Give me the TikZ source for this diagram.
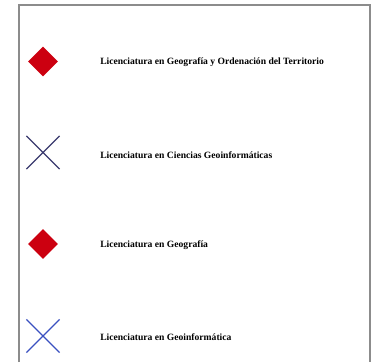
\documentclass[tikz,border=0pt]{standalone}
\usepackage{fontspec}
\setmainfont{Liberation Serif}
\usepackage{tikz}
\usetikzlibrary{shapes.geometric,shapes.misc}
\definecolor{framegray}{HTML}{8C8C8C}
\definecolor{diamondred}{HTML}{CC0010}
\definecolor{crossnavy}{HTML}{3A3A6E}
\definecolor{crossblue}{HTML}{3A50C0}
\tikzset{
  keydiamond/.style={diamond,fill=diamondred,inner sep=0pt,minimum size=22.5pt},
  keycross/.style={cross out,draw,line width=0.9pt,inner sep=0pt,minimum size=24pt},
  keytext/.style={anchor=west,inner sep=0pt,font=\fontsize{7.2}{8.5}\selectfont\bfseries}
}

\begin{document}
\begin{tikzpicture}[x=0.75pt,y=-0.75pt]
\useasboundingbox (0,0) rectangle (375,362);
\draw[framegray,line width=1.5pt] (19,362) -- (19,4.5) -- (370,4.5) -- (370,362);
\draw[] (43,61.5) node[keydiamond] (geoot) {};
\draw[] (100,62) node[keytext] (geoottext) {Licenciatura en Geografía y Ordenación del Territorio};
\draw[] (43,152.5) node[keycross,draw=crossnavy] (cienciasgeo) {};
\draw[] (100,155) node[keytext] (cienciasgeotext) {Licenciatura en Ciencias Geoinformáticas};
\draw[] (43,244) node[keydiamond] (geo) {};
\draw[] (100,245) node[keytext] (geotext) {Licenciatura en Geografía};
\draw[] (43,336) node[keycross,draw=crossblue] (geoinf) {};
\draw[] (100,337) node[keytext] (geoinftext) {Licenciatura en Geoinformática};
\end{tikzpicture}
\end{document}
